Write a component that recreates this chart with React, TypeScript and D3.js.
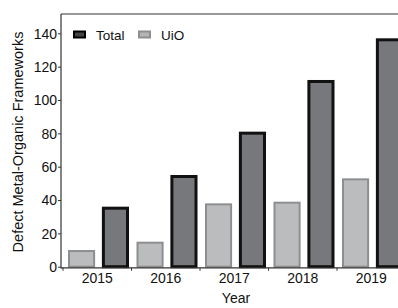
import { useRef, useEffect } from "react";
import * as d3 from "d3";

const years = ["2015", "2016", "2017", "2018", "2019"];
const uio = [10, 15, 38, 39, 53];
const total = [36, 55, 81, 112, 137];
const yTicks = [0, 20, 40, 60, 80, 100, 120, 140];

export default function App() {
  const svgRef = useRef<SVGSVGElement>(null);

  useEffect(() => {
    if (!svgRef.current) return;
    const svg = d3.select(svgRef.current);
    svg.selectAll("*").remove();

    const width = 398;
    const left = 61;
    const font = "Liberation Sans, Arial, Helvetica, sans-serif";

    const x = d3.scaleBand().domain(years).range([63, 63 + 68.5 * years.length]);
    const x1 = d3.scaleBand().domain(["UiO", "Total"]).range([5, 66]).paddingInner(0.2);
    const y = d3.scaleLinear().domain([0, 152]).range([266.7, 13.3]);

    const g = svg.append("g");

    // bars
    years.forEach((yr, i) => {
      const x0 = x(yr)!;
      g.append("rect")
        .attr("x", x0 + x1("UiO")! + 1)
        .attr("y", y(uio[i]) + 1)
        .attr("width", x1.bandwidth() - 2)
        .attr("height", y(0) - y(uio[i]) - 1)
        .attr("fill", "#bbbcbe")
        .attr("stroke", "#8d8e90")
        .attr("stroke-width", 2);
      g.append("rect")
        .attr("x", x0 + x1("Total")! + 1.5)
        .attr("y", y(total[i]) + 1.5)
        .attr("width", x1.bandwidth() - 3)
        .attr("height", y(0) - y(total[i]) - 1.5)
        .attr("fill", "#77787c")
        .attr("stroke", "#111")
        .attr("stroke-width", 3);
    });

    // frame top
    g.append("line")
      .attr("x1", left).attr("x2", width)
      .attr("y1", 14).attr("y2", 14)
      .attr("stroke", "#333").attr("stroke-width", 1.2);

    // y axis
    const yAxis = g.append("g").attr("transform", `translate(${left},0)`)
      .call(d3.axisLeft(y).tickValues(yTicks).tickSize(3).tickSizeOuter(0));
    yAxis.select(".domain").remove();
    yAxis.append("line").attr("x1", 0).attr("x2", 0).attr("y1", 14).attr("y2", 268.5)
      .attr("stroke", "#333").attr("stroke-width", 1.2);
    yAxis.selectAll(".tick line").attr("stroke", "#333");
    yAxis.selectAll(".tick text")
      .attr("x", -4).attr("dy", "0.35em")
      .attr("fill", "#111").attr("font-size", 14).attr("font-family", font);

    // x axis
    const xAxis = g.append("g").attr("transform", `translate(0,267.8)`);
    xAxis.append("line").attr("x1", left).attr("x2", width).attr("y1", 0).attr("y2", 0)
      .attr("stroke", "#333").attr("stroke-width", 1.2);
    years.forEach((yr) => {
      xAxis.append("line")
        .attr("x1", x(yr)!).attr("x2", x(yr)!)
        .attr("y1", 0).attr("y2", 3)
        .attr("stroke", "#333");
      xAxis.append("text")
        .attr("x", x(yr)! + x.bandwidth() / 2)
        .attr("y", 15.5)
        .attr("text-anchor", "middle")
        .attr("fill", "#111").attr("font-size", 14).attr("font-family", font)
        .text(yr);
    });

    // axis titles
    svg.append("text")
      .attr("x", 236).attr("y", 303)
      .attr("text-anchor", "middle")
      .attr("fill", "#111").attr("font-size", 14).attr("font-family", font)
      .text("Year");
    svg.append("text")
      .attr("transform", `translate(23,142) rotate(-90)`)
      .attr("text-anchor", "middle")
      .attr("fill", "#111").attr("font-size", 14.5).attr("font-family", font)
      .text("Defect Metal-Organic Frameworks");

    // legend
    const legend = [
      { label: "Total", fill: "#444", stroke: "#000", x: 74 },
      { label: "UiO", fill: "#b4b5b7", stroke: "#8d8e90", x: 139 },
    ];
    legend.forEach((d) => {
      svg.append("rect")
        .attr("x", d.x).attr("y", 31.5)
        .attr("width", 11).attr("height", 6)
        .attr("fill", d.fill).attr("stroke", d.stroke).attr("stroke-width", 2);
      svg.append("text")
        .attr("x", d.x + 22).attr("y", 39.5)
        .attr("fill", "#111").attr("font-size", 13.5).attr("font-family", font)
        .text(d.label);
    });
  }, []);

  return (
    <svg
      ref={svgRef}
      width={398}
      height={308}
      style={{ position: "absolute", left: 0, top: 0, background: "#fff", overflow: "hidden" }}
    />
  );
}
